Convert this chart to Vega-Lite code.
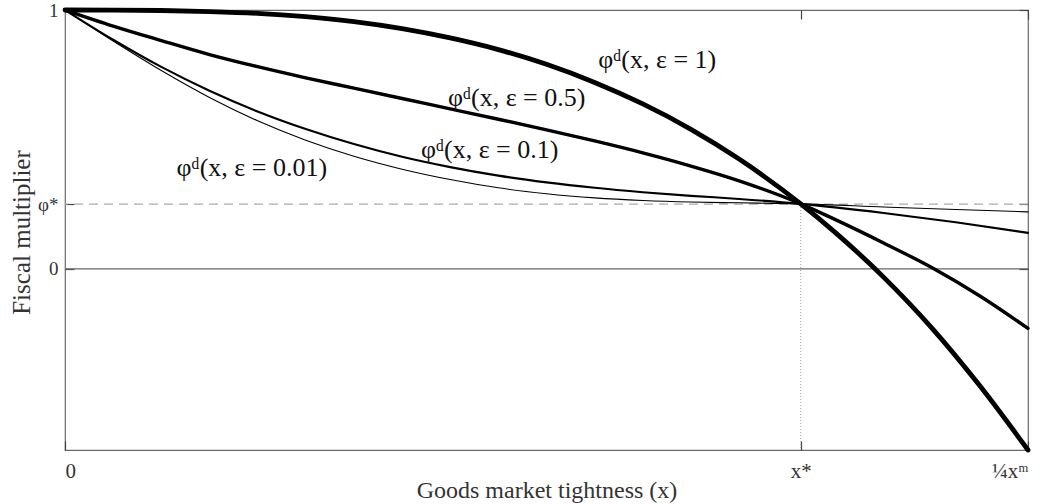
{
  "$schema": "https://vega.github.io/schema/vega-lite/v6.json",
  "width": 963,
  "height": 440,
  "autosize": "none",
  "padding": {"left": 65, "top": 10, "right": 19, "bottom": 54},
  "background": "white",
  "config": {
    "view": {"stroke": "#6a6a6a", "strokeWidth": 1.2},
    "font": "Liberation Serif",
    "axis": {
      "grid": false,
      "domain": false,
      "labelFont": "Liberation Serif",
      "titleFont": "Liberation Serif",
      "labelColor": "#333",
      "titleColor": "#333",
      "titleFontWeight": "normal",
      "tickColor": "#444",
      "tickWidth": 1.2
    },
    "line": {"color": "black", "strokeCap": "round", "strokeJoin": "round", "interpolate": "monotone"}
  },
  "resolve": {"axis": {"x": "independent", "y": "independent"}},
  "datasets": {
    "curves": [
      {"eps": "1", "x": 0, "y": 1},
      {"eps": "1", "x": 0.05, "y": 0.9998},
      {"eps": "1", "x": 0.1, "y": 0.998},
      {"eps": "1", "x": 0.15, "y": 0.994},
      {"eps": "1", "x": 0.2, "y": 0.987},
      {"eps": "1", "x": 0.25, "y": 0.974},
      {"eps": "1", "x": 0.3, "y": 0.955},
      {"eps": "1", "x": 0.35, "y": 0.928},
      {"eps": "1", "x": 0.4, "y": 0.892},
      {"eps": "1", "x": 0.45, "y": 0.847},
      {"eps": "1", "x": 0.5, "y": 0.79},
      {"eps": "1", "x": 0.55, "y": 0.72},
      {"eps": "1", "x": 0.6, "y": 0.637},
      {"eps": "1", "x": 0.65, "y": 0.539},
      {"eps": "1", "x": 0.7, "y": 0.424},
      {"eps": "1", "x": 0.764, "y": 0.251},
      {"eps": "1", "x": 0.8, "y": 0.14},
      {"eps": "1", "x": 0.85, "y": -0.032},
      {"eps": "1", "x": 0.9, "y": -0.228},
      {"eps": "1", "x": 0.95, "y": -0.452},
      {"eps": "1", "x": 1, "y": -0.7},

      {"eps": "0.5", "x": 0, "y": 1},
      {"eps": "0.5", "x": 0.05, "y": 0.938},
      {"eps": "0.5", "x": 0.1, "y": 0.882},
      {"eps": "0.5", "x": 0.15, "y": 0.828},
      {"eps": "0.5", "x": 0.2, "y": 0.781},
      {"eps": "0.5", "x": 0.25, "y": 0.738},
      {"eps": "0.5", "x": 0.3, "y": 0.698},
      {"eps": "0.5", "x": 0.35, "y": 0.658},
      {"eps": "0.5", "x": 0.4, "y": 0.618},
      {"eps": "0.5", "x": 0.45, "y": 0.578},
      {"eps": "0.5", "x": 0.5, "y": 0.537},
      {"eps": "0.5", "x": 0.55, "y": 0.494},
      {"eps": "0.5", "x": 0.6, "y": 0.448},
      {"eps": "0.5", "x": 0.65, "y": 0.397},
      {"eps": "0.5", "x": 0.7, "y": 0.34},
      {"eps": "0.5", "x": 0.764, "y": 0.251},
      {"eps": "0.5", "x": 0.8, "y": 0.19},
      {"eps": "0.5", "x": 0.85, "y": 0.1},
      {"eps": "0.5", "x": 0.9, "y": 0.005},
      {"eps": "0.5", "x": 0.95, "y": -0.105},
      {"eps": "0.5", "x": 1, "y": -0.23},

      {"eps": "0.1", "x": 0, "y": 1},
      {"eps": "0.1", "x": 0.05, "y": 0.885},
      {"eps": "0.1", "x": 0.1, "y": 0.78},
      {"eps": "0.1", "x": 0.15, "y": 0.688},
      {"eps": "0.1", "x": 0.2, "y": 0.608},
      {"eps": "0.1", "x": 0.25, "y": 0.54},
      {"eps": "0.1", "x": 0.3, "y": 0.482},
      {"eps": "0.1", "x": 0.35, "y": 0.433},
      {"eps": "0.1", "x": 0.4, "y": 0.393},
      {"eps": "0.1", "x": 0.45, "y": 0.36},
      {"eps": "0.1", "x": 0.5, "y": 0.334},
      {"eps": "0.1", "x": 0.55, "y": 0.313},
      {"eps": "0.1", "x": 0.6, "y": 0.296},
      {"eps": "0.1", "x": 0.65, "y": 0.282},
      {"eps": "0.1", "x": 0.7, "y": 0.27},
      {"eps": "0.1", "x": 0.764, "y": 0.251},
      {"eps": "0.1", "x": 0.85, "y": 0.216},
      {"eps": "0.1", "x": 0.925, "y": 0.18},
      {"eps": "0.1", "x": 1, "y": 0.139},

      {"eps": "0.01", "x": 0, "y": 1},
      {"eps": "0.01", "x": 0.05, "y": 0.88},
      {"eps": "0.01", "x": 0.1, "y": 0.766},
      {"eps": "0.01", "x": 0.15, "y": 0.662},
      {"eps": "0.01", "x": 0.2, "y": 0.572},
      {"eps": "0.01", "x": 0.25, "y": 0.497},
      {"eps": "0.01", "x": 0.3, "y": 0.435},
      {"eps": "0.01", "x": 0.35, "y": 0.385},
      {"eps": "0.01", "x": 0.4, "y": 0.345},
      {"eps": "0.01", "x": 0.45, "y": 0.313},
      {"eps": "0.01", "x": 0.5, "y": 0.29},
      {"eps": "0.01", "x": 0.55, "y": 0.274},
      {"eps": "0.01", "x": 0.6, "y": 0.264},
      {"eps": "0.01", "x": 0.65, "y": 0.258},
      {"eps": "0.01", "x": 0.7, "y": 0.255},
      {"eps": "0.01", "x": 0.764, "y": 0.251},
      {"eps": "0.01", "x": 0.85, "y": 0.239},
      {"eps": "0.01", "x": 0.925, "y": 0.229},
      {"eps": "0.01", "x": 1, "y": 0.22}
    ],
    "labels": [
      {"x": 0.615, "y": 0.807, "text": "φᵈ(x, ε = 1)"},
      {"x": 0.469, "y": 0.66, "text": "φᵈ(x, ε = 0.5)"},
      {"x": 0.441, "y": 0.459, "text": "φᵈ(x, ε = 0.1)"},
      {"x": 0.194, "y": 0.39, "text": "φᵈ(x, ε = 0.01)"}
    ],
    "levels": [
      {"name": "zero", "y": 0},
      {"name": "steady", "y": 0.25}
    ],
    "xstar": [{"x": 0.764, "y": 0.25, "y2": -0.7}]
  },
  "layer": [
    {
      "data": {"name": "levels"},
      "transform": [{"filter": "datum.name === 'zero'"}],
      "mark": {"type": "rule", "color": "#666", "strokeWidth": 1.3},
      "encoding": {
        "y": {"field": "y", "type": "quantitative", "scale": {"domain": [-0.7, 1], "nice": false, "zero": false},
          "axis": {"orient": "left", "values": [1, 0.25, 0], "labelExpr": "datum.value == 1 ? '1' : datum.value == 0 ? '0' : 'φ*'", "labelFontSize": 19, "labelPadding": 16, "tickSize": -9, "title": "Fiscal multiplier", "titleFontSize": 25, "titleX": -36, "titleY": 222, "titleAngle": 270, "titleBaseline": "alphabetic", "titleAlign": "center"}}
      }
    },
    {
      "data": {"name": "levels"},
      "transform": [{"filter": "datum.name === 'steady'"}],
      "mark": {"type": "rule", "color": "#aaa", "strokeWidth": 1.2, "strokeDash": [9, 6]},
      "encoding": {"y": {"field": "y", "type": "quantitative", "axis": null}}
    },
    {
      "data": {"name": "xstar"},
      "mark": {"type": "rule", "color": "#999", "strokeWidth": 1, "strokeDash": [1, 2]},
      "encoding": {
        "x": {"field": "x", "type": "quantitative", "axis": null},
        "y": {"field": "y", "type": "quantitative", "axis": null},
        "y2": {"field": "y2"}
      }
    },
    {
      "data": {"name": "xstar"},
      "mark": {"type": "point", "opacity": 0},
      "encoding": {
        "x": {"field": "x", "type": "quantitative", "axis": {"orient": "top", "values": [0.764, 1], "labels": false, "tickSize": -9, "title": null}},
        "y": {"field": "y", "type": "quantitative", "axis": {"orient": "right", "values": [1, 0.25, 0], "labels": false, "tickSize": -9, "title": null}}
      }
    },
    {
      "data": {"name": "curves"},
      "transform": [{"filter": "datum.eps === '0.01'"}],
      "mark": {"type": "line", "strokeWidth": 1.1},
      "encoding": {
        "x": {"field": "x", "type": "quantitative", "axis": null},
        "y": {"field": "y", "type": "quantitative", "axis": null}
      }
    },
    {
      "data": {"name": "curves"},
      "transform": [{"filter": "datum.eps === '0.1'"}],
      "mark": {"type": "line", "strokeWidth": 2.1},
      "encoding": {
        "x": {"field": "x", "type": "quantitative", "axis": null},
        "y": {"field": "y", "type": "quantitative", "axis": null}
      }
    },
    {
      "data": {"name": "curves"},
      "transform": [{"filter": "datum.eps === '0.5'"}],
      "mark": {"type": "line", "strokeWidth": 3.4},
      "encoding": {
        "x": {"field": "x", "type": "quantitative", "axis": null},
        "y": {"field": "y", "type": "quantitative", "axis": null}
      }
    },
    {
      "data": {"name": "curves"},
      "transform": [{"filter": "datum.eps === '1'"}],
      "mark": {"type": "line", "strokeWidth": 4.8},
      "encoding": {
        "x": {"field": "x", "type": "quantitative", "scale": {"domain": [0, 1], "nice": false, "zero": false},
          "axis": {"orient": "bottom", "values": [0, 0.764, 1], "labelExpr": "datum.value == 0 ? '0' : datum.value == 1 ? '¼xᵐ' : 'x*'", "labelFontSize": 21, "labelPadding": 19, "tickSize": -9, "title": "Goods market tightness (x)", "titleFontSize": 24, "titleY": 47, "titleBaseline": "alphabetic"}},
        "y": {"field": "y", "type": "quantitative", "axis": null}
      }
    },
    {
      "data": {"name": "labels"},
      "mark": {"type": "text", "fontSize": 26, "font": "Liberation Serif", "color": "#111", "align": "center", "baseline": "middle"},
      "encoding": {
        "x": {"field": "x", "type": "quantitative", "axis": null},
        "y": {"field": "y", "type": "quantitative", "axis": null},
        "text": {"field": "text"}
      }
    }
  ]
}
